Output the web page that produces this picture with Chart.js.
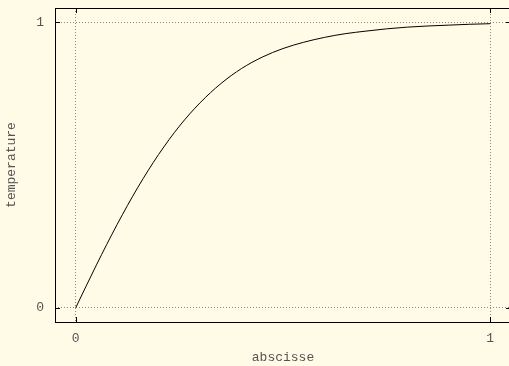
<!DOCTYPE html>
<html>
<head>
<meta charset="utf-8">
<script src="https://cdn.jsdelivr.net/npm/chart.js@4/dist/chart.umd.min.js"></script>
<style>
html,body{margin:0;padding:0;background:#fffbe6;overflow:hidden;}
canvas{display:block;}
</style>
</head>
<body>
<canvas id="c" width="512" height="366"></canvas>
<script>
// values
var abscisse = [0,0.05,0.1,0.15,0.2,0.25,0.3,0.35,0.4,0.45,0.5,0.55,0.6,0.65,0.7,0.75,0.8,0.85,0.9,0.95,1];
var temperature = [0,0.150,0.292,0.422,0.537,0.636,0.718,0.785,0.838,0.878,0.908,0.930,0.947,0.960,0.969,0.977,0.983,0.987,0.990,0.993,0.995];
var xTicks = [0,1];
var yTicks = [0,1];

var txt = '#555';
var fnt = {family:'"Liberation Mono", monospace', size:13};

var pts = [];
for (var i=0;i<abscisse.length;i++) pts.push({x:abscisse[i], y:temperature[i]});

// frame + inward tick marks
var frame = {
    id:'frame',
    afterDraw: function(chart){
        var ctx = chart.ctx, a = chart.chartArea;
        var xs = chart.scales.x, ys = chart.scales.y;
        ctx.save();
        ctx.strokeStyle = '#000';
        ctx.lineWidth = 1;
        ctx.strokeRect(Math.round(a.left)+0.5, Math.round(a.top)+0.5, Math.round(a.right-a.left), Math.round(a.bottom-a.top));
        ctx.beginPath();
        xTicks.forEach(function(v){
            var px = Math.round(xs.getPixelForValue(v))+0.5;
            ctx.moveTo(px, a.bottom); ctx.lineTo(px, a.bottom-5);
            ctx.moveTo(px, a.top); ctx.lineTo(px, a.top+5);
        });
        yTicks.forEach(function(v){
            var py = Math.round(ys.getPixelForValue(v))+0.5;
            ctx.moveTo(a.left, py); ctx.lineTo(a.left+5, py);
            ctx.moveTo(a.right, py); ctx.lineTo(a.right-5, py);
        });
        ctx.stroke();
        ctx.restore();
    }
};

function noPad(s){ s.paddingTop = 0; s.paddingBottom = 0; s.paddingLeft = 0; s.paddingRight = 0; }

new Chart(document.getElementById('c'), {
    type:'scatter',
    data:{datasets:[{
        data:pts,
        showLine:true,
        borderColor:'#000',
        borderWidth:1,
        pointRadius:0,
        cubicInterpolationMode:'monotone',
        fill:false
    }]},
    options:{
        responsive:false,
        animation:false,
        devicePixelRatio:1,
        layout:{padding:{top:8,right:1,left:0,bottom:0}},
        plugins:{legend:{display:false},tooltip:{enabled:false}},
        scales:{
            x:{
                type:'linear', min:-0.05, max:1.05,
                afterBuildTicks:function(s){ s.ticks = xTicks.map(function(v){return {value:v};}); },
                afterFit:function(s){ s.height = 44; noPad(s); },
                grid:{color:'#888', lineWidth:1, drawTicks:false},
                border:{display:false, dash:[1,2]},
                ticks:{color:txt, font:fnt, padding:9, maxRotation:0},
                title:{display:true, text:'abscisse', color:txt, font:fnt, padding:{top:0,bottom:1}}
            },
            y:{
                type:'linear', min:-0.05, max:1.05,
                afterBuildTicks:function(s){ s.ticks = yTicks.map(function(v){return {value:v};}); },
                afterFit:function(s){ s.width = 55; noPad(s); },
                grid:{color:'#888', lineWidth:1, drawTicks:false},
                border:{display:false, dash:[1,2]},
                ticks:{color:txt, font:fnt, padding:11},
                title:{display:true, text:'temperature', color:txt, font:fnt, padding:{top:4,bottom:0}}
            }
        }
    },
    plugins:[frame]
});
</script>
</body>
</html>
